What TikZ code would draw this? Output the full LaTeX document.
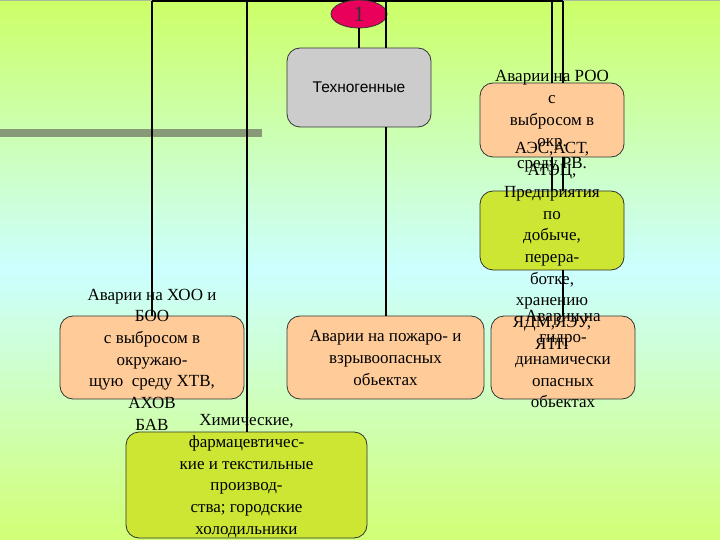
\documentclass[tikz,border=0pt]{standalone}
\usepackage{fontspec}
\setmainfont{Liberation Serif}
\newfontfamily\arialfont{Liberation Sans}
\usetikzlibrary{shapes.geometric}
\definecolor{peach}{HTML}{FFCC99}
\definecolor{lime}{HTML}{CCE633}
\definecolor{boxgrey}{HTML}{CCCCCC}
\definecolor{bgtop}{HTML}{CCFF66}
\definecolor{bgmid}{HTML}{CCFFFF}
\definecolor{barc}{HTML}{889977}
\definecolor{ovalc}{HTML}{E8005A}
\tikzset{
  box/.style={draw=black!80, line width=0.8pt, rounded corners=13pt, inner sep=0pt},
  txt/.style={align=center, inner sep=0pt, font=\fontsize{17}{21.7}\selectfont},
  link/.style={draw=black, line width=2pt}
}
\begin{document}
\begin{tikzpicture}[x=1pt,y=-1pt]
\useasboundingbox (0,0) rectangle (720,540);
% background
\shade[top color=bgtop, bottom color=bgtop!90!white, middle color=bgmid] (0,0) rectangle (720,540);
\fill[barc!70] (0,0) rectangle (720,1);
\fill[barc] (0,129) rectangle (262,137);
% boxes
\node[box, fill=boxgrey, minimum width=144pt, minimum height=79pt, font=\arialfont\fontsize{15.5}{18}\selectfont] (tech) at (359,87.5) {Техногенные};
\node[box, fill=peach, minimum width=144pt, minimum height=74pt] (poo) at (552,120) {};
\node[box, fill=lime, minimum width=144pt, minimum height=79pt] (pred) at (552,230.5) {};
\node[box, fill=peach, minimum width=184pt, minimum height=83pt] (hoo) at (152,357.5) {};
\node[box, fill=peach, minimum width=197pt, minimum height=83pt] (fire) at (385.5,357.5) {};
\node[box, fill=peach, minimum width=144pt, minimum height=83pt] (hydro) at (563,357.5) {};
\node[box, fill=lime, minimum width=241pt, minimum height=106pt] (chem) at (246.5,485) {};
% texts
\node[txt] (pootext) at (552,121.5) {Аварии на РОО\\с\\выбросом в\\окр.\\среду РВ.};
\node[txt] (predtext) at (552,246) {АЭС,АСТ,\\АТЭЦ,\\Предприятия\\по\\добыче,\\перера-\\ботке,\\хранению\\ЯДМ,ЯЭУ,\\ЯТП};
\node[txt] (hootext) at (152,359.5) {Аварии на ХОО и\\БОО\\с выбросом в\\окружаю-\\щую~~среду ХТВ,\\АХОВ\\БАВ};
\node[txt] (firetext) at (385.5,358) {Аварии на пожаро- и\\взрывоопасных\\обьектах};
\node[txt] (hydrotext) at (563,359) {Аварии на\\гидро-\\динамически\\опасных\\обьектах};
\node[txt] (chemtext) at (246.5,476) {Химические,\\фармацевтичес-\\кие и текстильные\\производ-\\ства; городские\\холодильники};
% top line
\coordinate (tl) at (152,1.5);
\coordinate (tr) at (563,1.5);
\draw[link] (tl) -- (tr);
% oval
\node[ellipse, draw=black!80, line width=0.8pt, fill=ovalc, minimum width=56pt, minimum height=28pt, inner sep=0pt, font=\fontsize{22}{24}\selectfont, text=black!80] (oval) at (359,14) {1};
% connectors
\draw[link] (oval.south) -- (tech.north);
\draw[link] (hoo.north |- tl) -- (hoo.north);
\draw[link] (chem.north |- tl) -- (chem.north);
\draw[link] (fire.north |- tl) -- (fire.north |- tech.north);
\draw[link] (fire.north |- tech.south) -- (fire.north);
\draw[link] (poo.north |- tl) -- (poo.north);
\draw[link] (poo.south) -- (pred.north);
\draw[link] (hydro.north |- tl) -- (hydro.north |- poo.north);
\draw[link] (hydro.north |- poo.south) -- (hydro.north |- pred.north);
\draw[link] (hydro.north |- pred.south) -- (hydro.north);
\end{tikzpicture}
\end{document}
